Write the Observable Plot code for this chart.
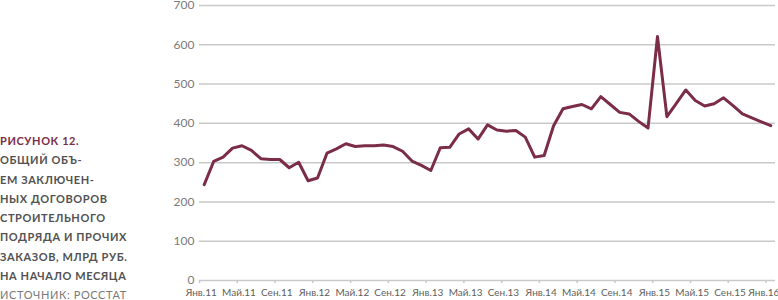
<!DOCTYPE html>
<html>
<head>
<meta charset="utf-8">
<script src="https://cdn.jsdelivr.net/npm/d3@7"></script>
<script src="https://cdn.jsdelivr.net/npm/@observablehq/plot@0.6"></script>
<style>
  html, body { margin: 0; padding: 0; background: #fff; }
  #wrap { position: relative; width: 778px; height: 300px; overflow: hidden; font-family: Lato, sans-serif; }
  #chart { position: absolute; left: 0; top: 0; }
  #caption { position: absolute; left: 0; top: 131px; width: 190px; font-size: 11px; line-height: 19.3px; letter-spacing: 0.6px; color: #525252; font-weight: 700; }
  #caption .fig { color: #7b2d48; }
  #caption .src { font-weight: 400; color: #7a7a7a; }
</style>
</head>
<body>
<div id="wrap">
  <div id="chart"></div>
  <div id="caption"></div>
</div>
<script>
const figureLabel = "РИСУНОК 12.";
const titleLines = ["ОБЩИЙ ОБЪ-", "ЕМ ЗАКЛЮЧЕН-", "НЫХ ДОГОВОРОВ", "СТРОИТЕЛЬНОГО", "ПОДРЯДА И ПРОЧИХ", "ЗАКАЗОВ, МЛРД РУБ.", "НА НАЧАЛО МЕСЯЦА"];
const sourceLine = "ИСТОЧНИК: РОССТАТ";

const tickLabels = ["Янв.11","Май.11","Сен.11","Янв.12","Май.12","Сен.12","Янв.13","Май.13","Сен.13","Янв.14","Май.14","Сен.14","Янв.15","Май.15","Сен.15","Янв.16"];
const yTicks = [0, 100, 200, 300, 400, 500, 600, 700];
// monthly values, Jan 2011 .. Jan 2016
const values = [244,303,314,337,343,331,310,308,308,287,301,254,261,324,335,348,341,343,343,345,341,
                329,304,293,280,338,339,373,386,360,396,383,380,382,365,314,318,394,
                437,443,448,437,468,448,428,424,405,388,621,417,451,485,458,444,450,465,445,424,414,404,394];

const data = values.map((v, i) => ({i, v}));
const labelPos = tickLabels.map((_, k) => k * 4);
const tickMarkPos = labelPos.map(p => p - 0.5);
const lastPos = labelPos[labelPos.length - 1];
const fmt = (d) => tickLabels[d / 4];

const cap = document.getElementById("caption");
cap.innerHTML = `<div class="fig">${figureLabel}</div>` +
  titleLines.map(t => `<div>${t}</div>`).join("") +
  `<div class="src">${sourceLine}</div>`;

const chart = Plot.plot({
  width: 778,
  height: 300,
  marginLeft: 199,
  marginRight: 3,
  marginTop: 5,
  marginBottom: 20,
  style: {fontFamily: "Lato, sans-serif", background: "transparent"},
  x: {type: "linear", domain: [-0.5, values.length - 0.5]},
  y: {domain: [0, 700]},
  marks: [
    Plot.gridY(yTicks, {stroke: "#c9c9c9", strokeOpacity: 1, strokeWidth: 1.5}),
    Plot.axisY(yTicks, {tickSize: 0, tickPadding: 5, fontSize: 12, color: "#7a7a7a", label: null}),
    Plot.axisX(tickMarkPos, {tickSize: 3, stroke: "#c9c9c9", strokeWidth: 1.5, text: null, label: null}),
    Plot.axisX(labelPos.slice(0, -1), {tickSize: 0, tickPadding: 8, dx: -3, fontSize: 10, fill: "#5e5e5e", label: null, tickFormat: fmt}),
    Plot.axisX([lastPos], {tickSize: 0, tickPadding: 8, dx: -7, fontSize: 10, fill: "#5e5e5e", label: null, tickFormat: fmt}),
    Plot.lineY(data, {x: "i", y: "v", stroke: "#7b2d48", strokeWidth: 3, strokeLinejoin: "round"})
  ]
});
document.getElementById("chart").appendChild(chart);
</script>
</body>
</html>
